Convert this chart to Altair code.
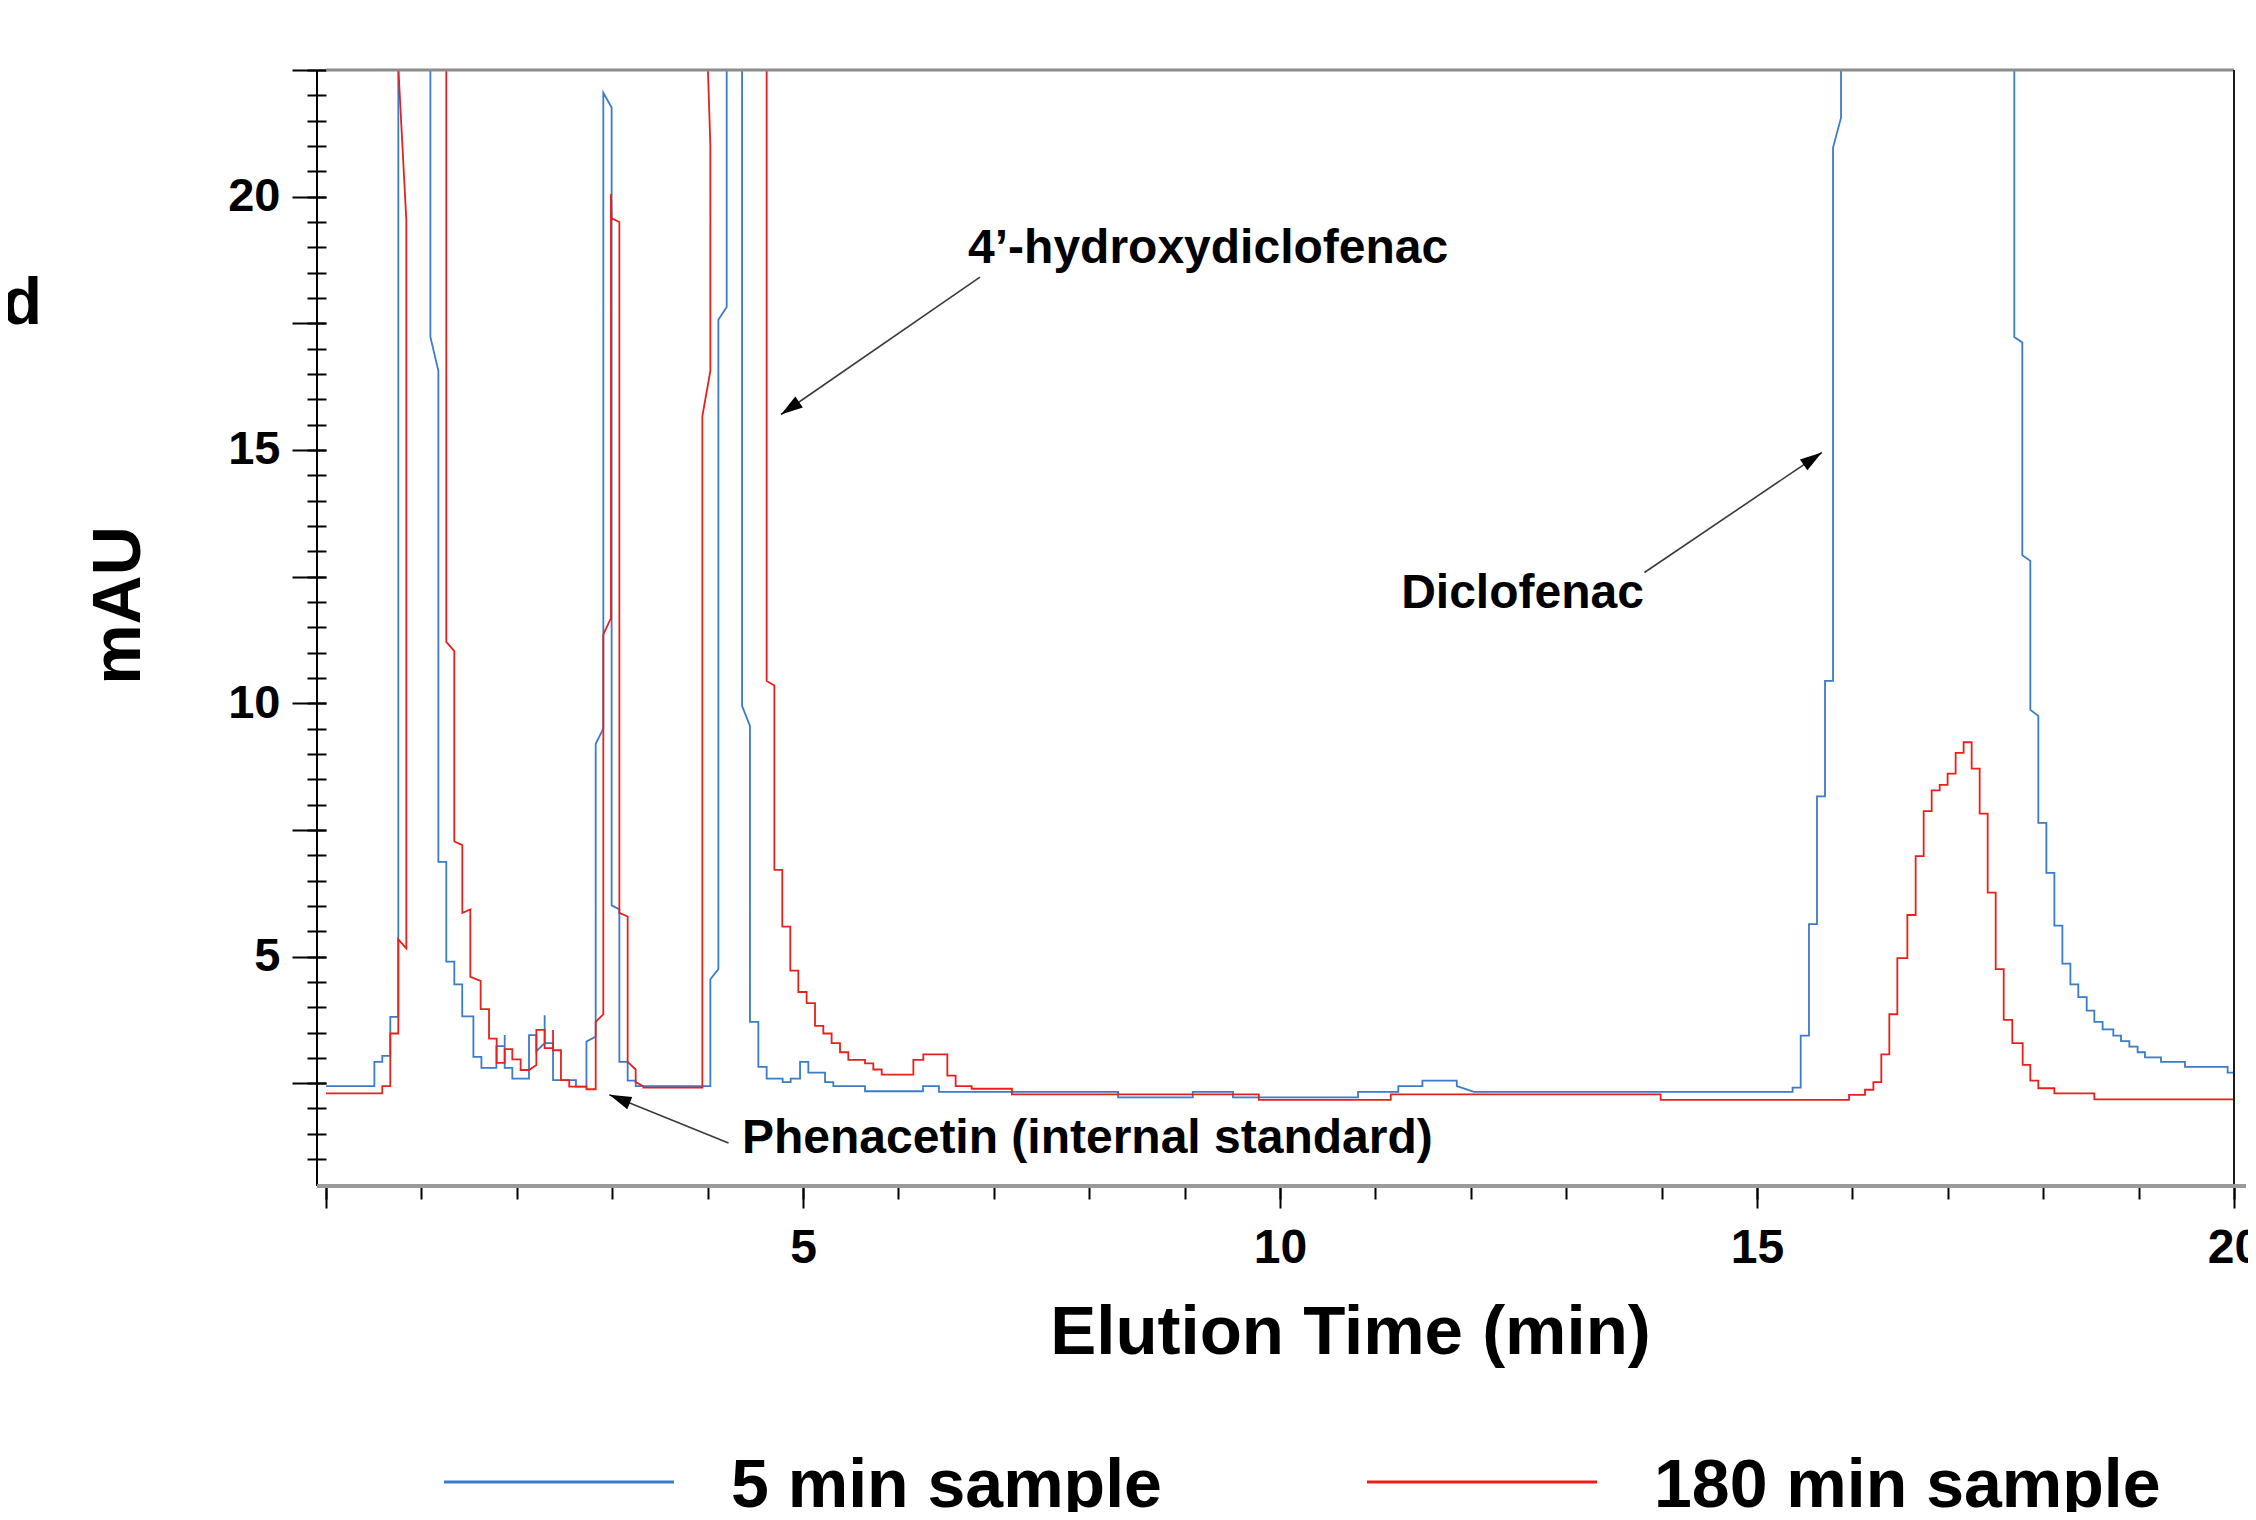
import altair as alt
import pandas as pd

# ---------------- data ----------------
SERIES = ["5 min sample", "180 min sample"]
COLORS = ["#3b7bc8", "#e8201c"]
OFF = 45.0  # peak is off-scale (above the axis maximum)

BLUE_T = [0.00, 0.507, 0.507, 0.590, 0.590, 0.674, 0.674, 0.758, 0.758, 1.094,
          1.094, 1.178, 1.178, 1.261, 1.261, 1.345, 1.345, 1.428, 1.428, 1.545,
          1.545, 1.629, 1.629, 1.786, 1.786, 1.873, 1.873, 1.873, 1.953, 1.953,
          2.128, 2.128, 2.205, 2.205, 2.292, 2.292, 2.292, 2.380, 2.380, 2.620,
          2.620, 2.730, 2.730, 2.827, 2.827, 2.907, 2.907, 2.994, 2.994, 3.075,
          3.075, 3.162, 3.162, 3.246, 3.246, 4.029, 4.029, 4.113, 4.113, 4.200,
          4.200, 4.361, 4.361, 4.444, 4.444, 4.532, 4.532, 4.619, 4.619, 4.787,
          4.787, 4.871, 4.871, 4.969, 4.969, 5.056, 5.056, 5.231, 5.231, 5.318,
          5.318, 5.650, 5.650, 6.258, 6.258, 6.425, 6.425, 8.303, 8.303, 9.086,
          9.086, 9.507, 9.507, 10.818, 10.818, 11.240, 11.240, 11.493, 11.493, 11.853,
          11.853, 12.034, 15.373, 15.373, 15.458, 15.458, 15.545, 15.545, 15.629, 15.629,
          15.713, 15.713, 15.797, 15.797, 15.881, 15.881, 17.697, 17.697, 17.781, 17.781,
          17.865, 17.865, 17.949, 17.949, 18.033, 18.033, 18.117, 18.117, 18.201, 18.201,
          18.285, 18.285, 18.368, 18.368, 18.456, 18.456, 18.536, 18.536, 18.623, 18.623,
          18.735, 18.735, 18.816, 18.816, 18.903, 18.903, 18.990, 18.990, 19.067, 19.067,
          19.235, 19.235, 19.486, 19.486, 19.933, 19.933, 20.00]
BLUE_V = [2.44, 2.44, 2.92, 2.92, 3.04, 3.04, 3.81, 3.81, OFF, OFF,
          17.23, 16.56, 6.87, 6.87, 4.90, 4.90, 4.45, 4.45, 3.82, 3.82,
          3.02, 3.02, 2.80, 2.80, 3.23, 3.23, 3.45, 2.80, 2.80, 2.59,
          2.59, 3.45, 3.45, 3.13, 3.29, 3.84, 3.29, 3.29, 2.56, 2.56,
          2.43, 2.43, 3.32, 3.42, 9.20, 9.50, 22.05, 21.76, 6.01, 5.93,
          2.92, 2.92, 2.55, 2.55, 2.44, 2.44, 4.55, 4.75, 17.57, 17.82,
          OFF, OFF, 9.95, 9.55, 3.71, 3.71, 2.82, 2.82, 2.59, 2.59,
          2.52, 2.52, 2.59, 2.59, 2.92, 2.92, 2.71, 2.71, 2.52, 2.52,
          2.44, 2.44, 2.34, 2.34, 2.44, 2.44, 2.33, 2.33, 2.22, 2.22,
          2.33, 2.33, 2.22, 2.22, 2.33, 2.33, 2.44, 2.44, 2.55, 2.55,
          2.44, 2.33, 2.33, 2.41, 2.41, 3.44, 3.44, 5.64, 5.64, 8.16,
          8.16, 10.44, 10.44, 20.97, 21.56, OFF, OFF, 17.23, 17.12, 12.92,
          12.81, 9.87, 9.75, 7.64, 7.64, 6.65, 6.65, 5.61, 5.61, 4.86,
          4.86, 4.45, 4.45, 4.20, 4.20, 3.93, 3.93, 3.71, 3.71, 3.56,
          3.56, 3.44, 3.44, 3.33, 3.33, 3.22, 3.22, 3.11, 3.11, 3.01,
          3.01, 2.92, 2.92, 2.82, 2.82, 2.71, 2.71]

RED_T = [0.00, 0.590, 0.590, 0.674, 0.674, 0.758, 0.758, 0.842, 0.842, 0.754,
         0.754, 1.261, 1.261, 1.345, 1.345, 1.429, 1.429, 1.513, 1.513, 1.621,
         1.621, 1.709, 1.709, 1.789, 1.789, 1.873, 1.873, 1.953, 1.953, 2.040,
         2.040, 2.128, 2.205, 2.205, 2.292, 2.292, 2.380, 2.380, 2.380, 2.463,
         2.463, 2.550, 2.550, 2.730, 2.730, 2.827, 2.827, 2.907, 2.907, 2.987,
         2.987, 2.994, 3.075, 3.075, 3.162, 3.162, 3.246, 3.246, 3.326, 3.326,
         3.945, 3.945, 4.029, 4.029, 4.000, 4.000, 4.619, 4.619, 4.700, 4.700,
         4.783, 4.783, 4.867, 4.867, 4.951, 4.951, 5.038, 5.038, 5.126, 5.126,
         5.213, 5.213, 5.300, 5.300, 5.388, 5.388, 5.475, 5.475, 5.650, 5.650,
         5.737, 5.737, 5.825, 5.825, 6.157, 6.157, 6.261, 6.261, 6.513, 6.513,
         6.600, 6.600, 6.768, 6.768, 7.190, 7.190, 9.778, 9.778, 11.161, 11.161,
         13.990, 13.990, 15.965, 15.965, 16.132, 16.132, 16.220, 16.220, 16.303, 16.303,
         16.387, 16.387, 16.471, 16.471, 16.576, 16.576, 16.663, 16.663, 16.747, 16.747,
         16.831, 16.831, 16.915, 16.915, 16.998, 16.998, 17.082, 17.082, 17.166, 17.166,
         17.250, 17.250, 17.334, 17.334, 17.418, 17.418, 17.502, 17.502, 17.586, 17.586,
         17.676, 17.676, 17.785, 17.785, 17.865, 17.865, 17.949, 17.949, 18.117, 18.117,
         18.536, 18.536, 20.00]
RED_V = [2.30, 2.30, 2.44, 2.44, 3.48, 3.48, 5.34, 5.16, 19.53, 22.70,
         OFF, OFF, 11.21, 11.03, 7.27, 7.20, 5.86, 5.93, 4.60, 4.52,
         3.96, 3.96, 3.38, 3.38, 2.90, 2.90, 3.17, 3.17, 2.97, 2.97,
         2.76, 2.76, 2.86, 3.55, 3.55, 3.19, 3.19, 3.55, 3.15, 3.15,
         2.56, 2.56, 2.43, 2.43, 2.38, 2.38, 3.71, 3.86, 11.36, 11.68,
         20.05, 19.57, 19.50, 5.86, 5.79, 2.92, 2.77, 2.52, 2.44, 2.41,
         2.41, 15.67, 16.56, 21.01, 22.70, OFF, OFF, 10.44, 10.35, 6.71,
         6.71, 5.59, 5.59, 4.72, 4.72, 4.30, 4.30, 4.08, 4.08, 3.63,
         3.63, 3.48, 3.48, 3.29, 3.29, 3.11, 3.11, 2.96, 2.96, 2.89,
         2.89, 2.77, 2.77, 2.67, 2.67, 2.96, 2.96, 3.07, 3.07, 2.65,
         2.65, 2.44, 2.44, 2.39, 2.39, 2.28, 2.28, 2.17, 2.17, 2.28,
         2.28, 2.17, 2.17, 2.27, 2.27, 2.37, 2.37, 2.52, 2.52, 3.07,
         3.07, 3.86, 3.86, 4.97, 4.97, 5.82, 5.82, 6.98, 6.98, 7.87,
         7.87, 8.28, 8.28, 8.39, 8.39, 8.61, 8.61, 9.02, 9.02, 9.23,
         9.23, 8.71, 8.71, 7.82, 7.82, 6.26, 6.26, 4.75, 4.75, 3.75,
         3.75, 3.29, 3.29, 2.86, 2.86, 2.55, 2.55, 2.40, 2.40, 2.30,
         2.30, 2.18, 2.18]

X_DOMAIN = [0, 20]
Y_DOMAIN = [0.47, 22.5]
X_MAJOR = [0, 5, 10, 15, 20]
X_MINOR = list(range(0, 21))
Y_MAJOR = [2.5, 5, 7.5, 10, 12.5, 15, 17.5, 20, 22.5]
Y_MINOR = [1.0, 1.5, 2.0, 2.5, 3.0, 3.5, 4.0, 4.5, 5.0, 5.5, 6.0, 6.5, 7.0, 7.5,
           8.0, 8.5, 9.0, 9.5, 10.0, 10.5, 11.0, 11.5, 12.0, 12.5, 13.0, 13.5,
           14.0, 14.5, 15.0, 15.5, 16.0, 16.5, 17.0, 17.5, 18.0, 18.5, 19.0,
           19.5, 20.0, 20.5, 21.0, 21.5, 22.0, 22.5]

ANNOT_TEXT = ["4\u2019-hydroxydiclofenac", "Diclofenac", "Phenacetin (internal standard)"]
ANNOT_X = [6.73, 11.27, 4.36]
ANNOT_Y = [18.97, 12.16, 1.39]
ARROW_X0 = [6.855, 13.82, 4.219]
ARROW_Y0 = [18.41, 12.58, 1.32]
ARROW_X1 = [4.769, 15.68, 2.970]
ARROW_Y1 = [15.70, 14.95, 2.27]
ARROW_ANGLE = [145.4, 325.8, 201.9]

# ---------------- layout ----------------
W, H = 1908, 1116
FONT = "Liberation Sans"

rows = []
for name, ts, vs in [(SERIES[0], BLUE_T, BLUE_V), (SERIES[1], RED_T, RED_V)]:
    for i, (t, v) in enumerate(zip(ts, vs)):
        rows.append({"t": t, "v": v, "series": name, "idx": i})
df = pd.DataFrame(rows)

ann = pd.DataFrame({"label": ANNOT_TEXT, "x": ANNOT_X, "y": ANNOT_Y})
arr = pd.DataFrame({"x0": ARROW_X0, "y0": ARROW_Y0, "x1": ARROW_X1,
                    "y1": ARROW_Y1, "ang": ARROW_ANGLE})
one = pd.DataFrame({"k": [0]})

xs = alt.Scale(domain=X_DOMAIN, nice=False, zero=False)
ys = alt.Scale(domain=Y_DOMAIN, nice=False, zero=False)

x_major = alt.Axis(orient="bottom", values=X_MAJOR, tickSize=22, tickWidth=2,
                   tickColor="black", labelExpr="datum.value == 0 ? '' : datum.label",
                   labelFontSize=48, labelFont=FONT, labelFontWeight="bold",
                   labelColor="black", labelPadding=16, labelFlush=False,
                   labelOverlap=False, domain=False, grid=False,
                   title="Elution Time (min)", titleFont=FONT, titleFontSize=69,
                   titleFontWeight="bold", titleColor="black", titleX=1024,
                   titleY=167, titleAlign="center", titleBaseline="alphabetic")
y_major = alt.Axis(orient="left", values=Y_MAJOR, tickSize=34, tickWidth=2,
                   tickColor="black",
                   labelExpr="datum.value % 5 == 0 ? datum.label : ''",
                   labelFontSize=47, labelFont=FONT, labelFontWeight="bold",
                   labelColor="black", labelPadding=12, labelFlush=False,
                   labelOverlap=False, domain=False, grid=False,
                   title="mAU", titleFont=FONT, titleFontSize=68,
                   titleFontWeight="bold", titleColor="black", titleX=-207,
                   titleY=535, titleAngle=270, titleAlign="center",
                   titleBaseline="middle")
x_minor = alt.Axis(orient="bottom", values=X_MINOR, tickSize=13, tickWidth=2,
                   tickColor="black", labels=False, domain=False, grid=False,
                   title=None)
y_minor = alt.Axis(orient="left", values=Y_MINOR, tickSize=19, tickWidth=2,
                   tickColor="black", labels=False, domain=False, grid=False,
                   title=None)

lines = alt.Chart(df).mark_line(clip=True, strokeWidth=1.8).encode(
    x=alt.X("t:Q", scale=xs, axis=x_major),
    y=alt.Y("v:Q", scale=ys, axis=y_major),
    color=alt.Color("series:N", scale=alt.Scale(domain=SERIES, range=COLORS),
                    legend=None),
    order=alt.Order("idx:Q"),
)

shafts = alt.Chart(arr).mark_rule(color="#3a3a3a", strokeWidth=1.6).encode(
    x=alt.X("x0:Q", scale=xs, axis=x_minor),
    y=alt.Y("y0:Q", scale=ys, axis=y_minor),
    x2="x1:Q",
    y2="y1:Q",
)

heads = alt.Chart(arr).mark_point(
    shape="M0,0L-2,-0.6L-2,0.6Z", filled=True, size=484, color="black",
    opacity=1, strokeWidth=0,
).encode(
    x=alt.X("x1:Q", scale=xs, axis=None),
    y=alt.Y("y1:Q", scale=ys, axis=None),
    angle=alt.Angle("ang:Q", scale=None),
)

texts = alt.Chart(ann).mark_text(
    align="left", baseline="middle", font=FONT, fontWeight="bold",
    fontSize=48, color="black",
).encode(
    x=alt.X("x:Q", scale=xs, axis=None),
    y=alt.Y("y:Q", scale=ys, axis=None),
    text="label:N",
)

frame = [
    alt.Chart(one).mark_rule(color="#8c8c8c", strokeWidth=3).encode(
        x=alt.value(0), x2=alt.value(W), y=alt.value(0)),
    alt.Chart(one).mark_rule(color="#1a1a1a", strokeWidth=2).encode(
        x=alt.value(W), y=alt.value(0), y2=alt.value(H)),
    alt.Chart(one).mark_rule(color="black", strokeWidth=2).encode(
        x=alt.value(-9), y=alt.value(0), y2=alt.value(H)),
    alt.Chart(one).mark_rule(color="#9a9a9a", strokeWidth=4).encode(
        x=alt.value(-9), x2=alt.value(W + 12), y=alt.value(H)),
]

stray = alt.Chart(one).mark_text(
    align="right", baseline="alphabetic", font=FONT, fontWeight="bold",
    fontSize=66, color="black",
).encode(x=alt.value(-284), y=alt.value(254), text=alt.value("d"))

LEG_X = [118, 1041]
legend = []
for name, col, lx in zip(SERIES, COLORS, LEG_X):
    legend.append(alt.Chart(one).mark_rule(color=col, strokeWidth=3).encode(
        x=alt.value(lx), x2=alt.value(lx + 230), y=alt.value(1412)))
    legend.append(alt.Chart(one).mark_text(
        align="left", baseline="alphabetic", font=FONT, fontWeight="bold",
        fontSize=68, color="black",
    ).encode(x=alt.value(lx + 287), y=alt.value(1437), text=alt.value(name)))

chart = alt.layer(
    lines, shafts, heads, texts, *frame, stray, *legend
).resolve_scale(
    x="shared", y="shared"
).resolve_axis(
    x="independent", y="independent"
).properties(
    width=W, height=H,
    padding={"left": 318, "top": 62, "right": 14, "bottom": 326},
    autosize=alt.AutoSizeParams(type="none"),
    background="white",
).configure_view(stroke=None)

chart.save("out.html", embed_options={"renderer": "svg", "actions": False})
